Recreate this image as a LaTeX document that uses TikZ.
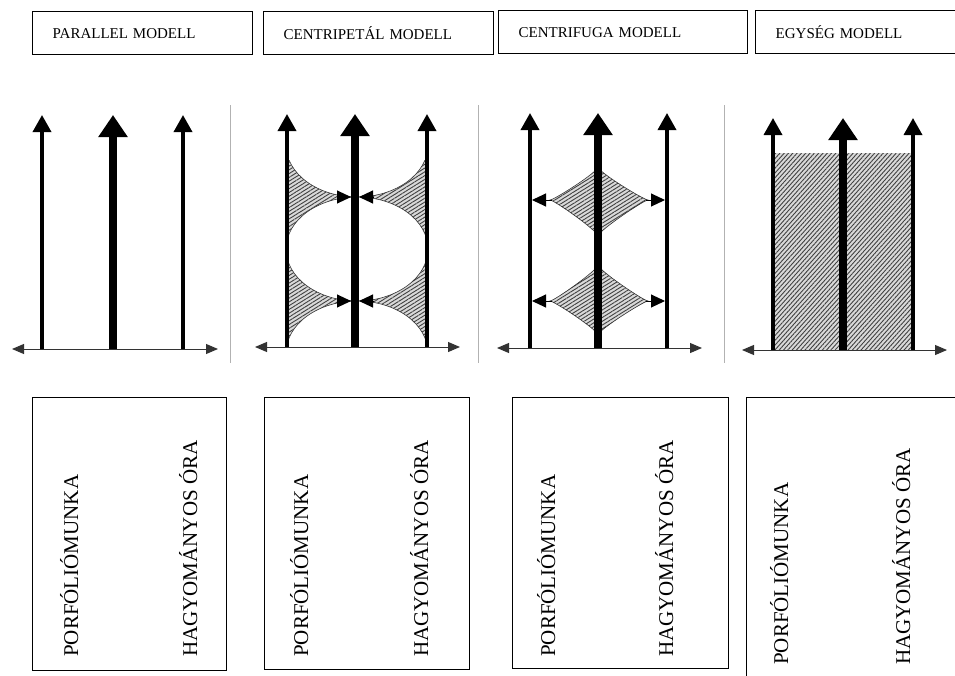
\documentclass[tikz,border=0pt]{standalone}
\usepackage{fontspec}
\setmainfont{Liberation Serif}
\usetikzlibrary{arrows.meta,patterns.meta}

\begin{document}
\begin{tikzpicture}[x=1pt, y=-1pt,
	head/.style = {draw, line width=1.4pt, anchor=north west, align=left, inner xsep=20pt, inner ysep=0pt, minimum height=43pt, font=\fontsize{15}{18}\selectfont},
	box/.style = {draw, line width=1.2pt, anchor=north west},
	word/.style = {rotate=90, anchor=base west, inner sep=0pt, font=\fontsize{21}{24}\selectfont},
	sidearrow/.style = {line width=3.5pt, -{Triangle[width=18pt,length=17pt]}},
	midarrow/.style = {line width=8pt, -{Triangle[width=28pt,length=22pt]}},
	axis/.style = {line width=1pt, draw=black!80, {Triangle[width=10pt,length=12pt]}-{Triangle[width=10pt,length=12pt]}},
	small/.style = {line width=1pt, -{Triangle[width=13pt,length=14pt]}},
	hatch/.style = {preaction={fill=gray!30}, pattern={Lines[angle=#1,distance=3.2pt,line width=0.9pt]}, pattern color=black!75, draw=gray!40!black, line width=0.6pt},
	hatch/.default = 32,
	hole/.style = {fill=white, draw=gray!40!black, line width=0.6pt},
	sep/.style = {draw=gray!60, line width=0.8pt}]
	\useasboundingbox (0,0) rectangle (955,675);

	%% Headers
	\node[head, text width=180pt] (h1) at (32,11) {PARALLEL MODELL};
	\node[head, text width=190pt] (h2) at (263,11) {CENTRIPETÁL MODELL};
	\node[head, text width=209pt] (h3) at (498,10) {CENTRIFUGA MODELL};
	\node[head, text width=200pt] (h4) at (755,10) {EGYSÉG MODELL};

	%% Separators
	\foreach \x in {230,478,724}
		\draw[sep] (\x,105) -- (\x,363);

	%% Hatched areas
	% centripetal: hatched band with white ellipses cut out
	\begin{scope}
		\clip (287,160) rectangle (427,347);
		\fill[hatch, draw=none] (287,160) rectangle (427,347);
		\foreach \c in {145,249,353}
			\filldraw[hole] (357,\c) ellipse (71pt and 52pt);
	\end{scope}
	\coordinate (cl1) at (337,197); \coordinate (cr1) at (373,197);
	\coordinate (cl2) at (337,301); \coordinate (cr2) at (373,301);
	\coordinate (cm1) at (351,197); \coordinate (cn1) at (359,197);
	\coordinate (cm2) at (351,301); \coordinate (cn2) at (359,301);
	\draw[small] (cl1) -- (cm1);
	\draw[small] (cr1) -- (cn1);
	\draw[small] (cl2) -- (cm2);
	\draw[small] (cr2) -- (cn2);

	% centrifugal
	\fill[hatch] (598,167) .. controls (598,172) and (554,200) .. (550,200) .. controls (554,200) and (598,231) .. (598,236) .. controls (598,231) and (644,200) .. (648,200) .. controls (644,200) and (598,172) .. (598,167) -- cycle;
	\fill[hatch] (598,265) .. controls (598,270) and (554,301) .. (550,301) .. controls (554,301) and (598,330) .. (598,335) .. controls (598,330) and (644,301) .. (648,301) .. controls (644,301) and (598,270) .. (598,265) -- cycle;
	\coordinate (fl1) at (552,200); \coordinate (fr1) at (646,200);
	\coordinate (fl2) at (552,301); \coordinate (fr2) at (646,301);
	\coordinate (fa1) at (532,200); \coordinate (fb1) at (665,200);
	\coordinate (fa2) at (532,301); \coordinate (fb2) at (665,301);
	\draw[small] (fl1) -- (fa1);
	\draw[small] (fr1) -- (fb1);
	\draw[small] (fl2) -- (fa2);
	\draw[small] (fr2) -- (fb2);

	% unity
	\fill[hatch=48, draw=none] (773,153) rectangle (913,350);

	%% Axes
	\foreach \n/\l/\m/\r/\t/\y/\xa/\xb in {1/42/113/183/115/349/12/218, 2/287/355/427/114/347/255/460, 3/530/598/667/113/348/497/702, 4/773/843/913/118/350/742/947}{
		\coordinate (w\n) at (\xa,\y);
		\coordinate (e\n) at (\xb,\y);
		\draw[axis] (w\n) -- (e\n);
		\draw[sidearrow] (\l,\y) -- (\l,\t);
		\draw[sidearrow] (\r,\y) -- (\r,\t);
		\draw[midarrow] (\m,\y) -- (\m,\t);
	}

	%% Boxes
	\node[box, minimum width=194pt, minimum height=273pt] (b1) at (32,397) {};
	\node[box, minimum width=205pt, minimum height=272pt] (b2) at (264,397) {};
	\node[box, minimum width=216pt, minimum height=271pt] (b3) at (512,397) {};
	\node[box, minimum width=230pt, minimum height=300pt] (b4) at (746,397) {};

	\node[word] (p1) at (78,657) {PORFÓLIÓMUNKA};
	\node[word] (o1) at (197,657) {HAGYOMÁNYOS ÓRA};
	\node[word] (p2) at (308,657) {PORFÓLIÓMUNKA};
	\node[word] (o2) at (428,657) {HAGYOMÁNYOS ÓRA};
	\node[word] (p3) at (555,657) {PORFÓLIÓMUNKA};
	\node[word] (o3) at (673,657) {HAGYOMÁNYOS ÓRA};
	\node[word] (p4) at (788,665) {PORFÓLIÓMUNKA};
	\node[word] (o4) at (910,665) {HAGYOMÁNYOS ÓRA};
\end{tikzpicture}
\end{document}
